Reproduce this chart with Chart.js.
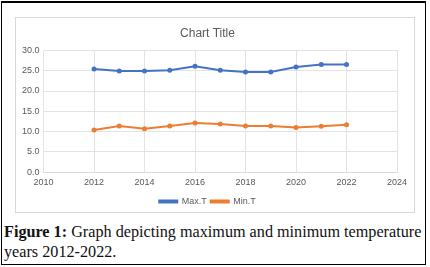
<!DOCTYPE html>
<html>
<head>
<meta charset="utf-8">
<script src="https://cdn.jsdelivr.net/npm/chart.js@4"></script>
<style>
  html, body { margin: 0; padding: 0; background: #fff; }
  #frame {
    position: absolute; left: 1px; top: 1px; width: 425px; height: 264px;
    border: 1px solid #000; border-top-width: 2px; box-sizing: border-box;
  }
  #box {
    position: absolute; left: 15px; top: 17px; width: 400px; height: 196px;
    border: 1px solid #d9d9d9; box-sizing: border-box;
  }
  #caption {
    position: absolute; left: 4px; top: 222px; width: 424px;
    font-family: "Liberation Serif", serif; font-size: 16.2px; line-height: 20px; color: #111;
  }
</style>
</head>
<body>
<div id="frame"></div>
<div id="box"><canvas id="c"></canvas></div>
<div id="caption"><b>Figure 1:</b> Graph depicting maximum and minimum temperature years 2012-2022.</div>
<script>
const years = [2012, 2013, 2014, 2015, 2016, 2017, 2018, 2019, 2020, 2021, 2022];
const maxT = [25.4, 24.9, 24.9, 25.1, 26.1, 25.1, 24.7, 24.7, 25.9, 26.5, 26.5];
const minT = [10.4, 11.4, 10.7, 11.4, 12.1, 11.9, 11.4, 11.4, 11.0, 11.3, 11.7];

const font = { family: "'Liberation Sans', Arial, sans-serif", size: 9 };

function toPoints(vals) {
  return years.map((y, i) => ({ x: y, y: vals[i] }));
}

function series(label, vals, color) {
  return {
    label,
    data: toPoints(vals),
    borderColor: color,
    backgroundColor: color,
    borderWidth: 2,
    pointRadius: 2.5,
    pointBackgroundColor: color,
    pointBorderWidth: 0,
    tension: 0
  };
}

// keep the legend spacing between items but make its box shorter
const tightLegend = {
  id: "tightLegend",
  beforeInit(chart) {
    const lg = chart.legend;
    if (!lg) return;
    const fit = lg.fit;
    lg.fit = function () {
      fit.call(this);
      this.height -= 4;
    };
  }
};

new Chart(document.getElementById("c"), {
  type: "line",
  data: {
    datasets: [
      series("Max.T", maxT, "#4472c4"),
      series("Min.T", minT, "#ed7d31")
    ]
  },
  plugins: [tightLegend],
  options: {
    responsive: true,
    maintainAspectRatio: false,
    animation: false,
    layout: { padding: { left: 2, right: 17, top: 4, bottom: 0 } },
    plugins: {
      title: {
        display: true,
        text: "Chart Title",
        color: "#595959",
        font: { family: font.family, size: 12, weight: "normal" },
        padding: { top: 4, bottom: 10 }
      },
      legend: {
        position: "bottom",
        labels: {
          color: "#595959",
          font,
          boxWidth: 18,
          boxHeight: 2,
          padding: 4
        }
      },
      tooltip: { enabled: false }
    },
    scales: {
      x: {
        type: "linear",
        min: 2010,
        max: 2024,
        ticks: { stepSize: 2, color: "#595959", font, padding: 5, callback: v => String(v) },
        grid: { color: "#e3e3e3", drawTicks: false },
        border: { color: "#d9d9d9" }
      },
      y: {
        min: 0,
        max: 30,
        ticks: { stepSize: 5, color: "#595959", font, padding: 4, callback: v => v.toFixed(1) },
        grid: { color: "#e3e3e3", drawTicks: false },
        border: { display: false }
      }
    }
  }
});
</script>
</body>
</html>
